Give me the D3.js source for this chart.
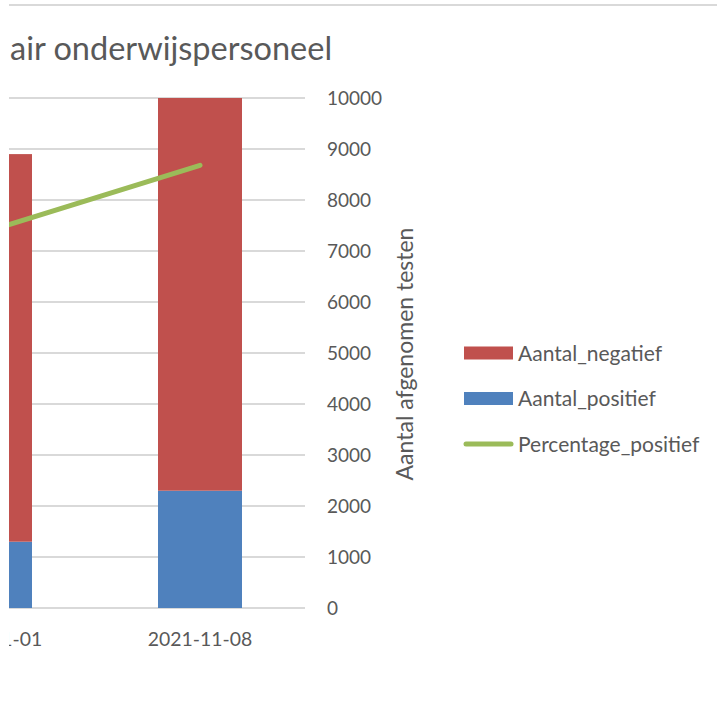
<!DOCTYPE html>
<html><head><meta charset="utf-8">
<script src="https://cdn.jsdelivr.net/npm/d3@7"></script>
<style>body{margin:0;background:#fff}svg{display:block}text{font-family:Lato,"Open Sans",sans-serif;fill:#595959}</style>
</head><body><svg id="c" width="717" height="717"></svg>
<script>
const categories = ["2021-11-01", "2021-11-08"];
const negatief = [7600, 7700];
const positief = [1300, 2300];
const percentage = [18.5, 21.7];
const yTicks = [0,1000,2000,3000,4000,5000,6000,7000,8000,9000,10000];
const seriesNames = ["Aantal_negatief", "Aantal_positief", "Percentage_positief"];
const colors = {neg:"#C0504D", pos:"#4F81BD", pct:"#9BBB59", grid:"#D9D9D9"};

const svg = d3.select("#c");
svg.append("defs").append("clipPath").attr("id","clip")
  .append("rect").attr("x",9).attr("y",0).attr("width",708).attr("height",717);
const g = svg.append("g").attr("clip-path","url(#clip)");

// chart border top
g.append("line").attr("x1",7).attr("x2",717).attr("y1",5).attr("y2",5)
  .attr("stroke",colors.grid).attr("stroke-width",2);

g.append("text").attr("x",10).attr("y",60).attr("font-size",32.5)
  .text("air onderwijspersoneel");

const x = d3.scaleBand().domain(categories).range([-115,305]).paddingInner(0.6).paddingOuter(0.3);
const y = d3.scaleLinear().domain([0,10000]).range([608,98]);
const y2 = d3.scaleLinear().domain([0,25]).range([608,98]);

// gridlines
g.append("g").selectAll("line").data(yTicks).join("line")
  .attr("x1",-115).attr("x2",305).attr("y1",d=>y(d)).attr("y2",d=>y(d))
  .attr("stroke",colors.grid).attr("stroke-width",2);

// right axis labels
const ax = g.append("g").attr("transform","translate(305,0)")
  .call(d3.axisRight(y).tickValues(yTicks).tickSize(0).tickPadding(22).tickFormat(d3.format("d")));
ax.select(".domain").remove();
ax.selectAll("text").attr("font-size",19).attr("fill","#595959").style("font-family","Lato");

g.append("text").attr("transform","translate(413,354) rotate(-90)").attr("text-anchor","middle")
  .attr("font-size",23).text("Aantal afgenomen testen");

// bars
const bars = g.append("g");
bars.selectAll(".pos").data(categories).join("rect").attr("class","pos")
  .attr("x",d=>x(d)).attr("width",x.bandwidth())
  .attr("y",(d,i)=>y(positief[i])).attr("height",(d,i)=>y(0)-y(positief[i]))
  .attr("fill",colors.pos);
bars.selectAll(".neg").data(categories).join("rect").attr("class","neg")
  .attr("x",d=>x(d)).attr("width",x.bandwidth())
  .attr("y",(d,i)=>y(positief[i]+negatief[i])).attr("height",(d,i)=>y(positief[i])-y(positief[i]+negatief[i]))
  .attr("fill",colors.neg);

// line
const line = d3.line().x((d,i)=>x(categories[i])+x.bandwidth()/2).y(d=>y2(d));
g.append("path").datum(percentage).attr("d",line).attr("fill","none")
  .attr("stroke",colors.pct).attr("stroke-width",5).attr("stroke-linecap","round");

// x axis labels
const xa = g.append("g").attr("transform","translate(0,608)")
  .call(d3.axisBottom(x).tickSize(0).tickPadding(24));
xa.select(".domain").remove();
xa.selectAll("text").attr("font-size",19.4).attr("fill","#595959").style("font-family","Lato");

// legend
const leg = g.append("g");
const items = [{n:seriesNames[0],c:colors.neg,t:"rect"},{n:seriesNames[1],c:colors.pos,t:"rect"},{n:seriesNames[2],c:colors.pct,t:"line"}];
items.forEach((it,i)=>{
  const cy = 353 + i*45.5;
  if(it.t==="rect") leg.append("rect").attr("x",464).attr("y",cy-6.5).attr("width",49).attr("height",13).attr("fill",it.c);
  else leg.append("line").attr("x1",466).attr("x2",511).attr("y1",cy).attr("y2",cy).attr("stroke",it.c).attr("stroke-width",5).attr("stroke-linecap","round");
  leg.append("text").attr("x",518).attr("y",cy+7.5).attr("font-size",21).text(it.n);
});
</script></body></html>
